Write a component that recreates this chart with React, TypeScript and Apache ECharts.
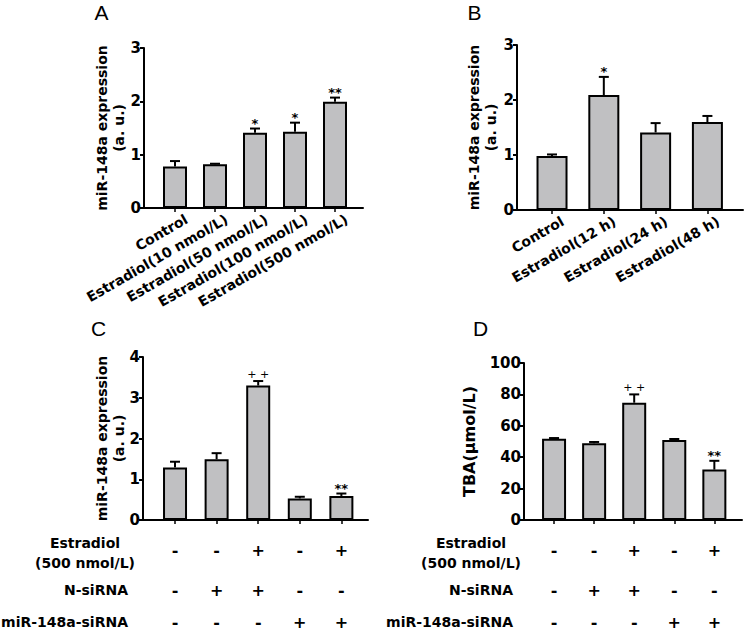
import React, { useEffect, useRef } from 'react';
import * as echarts from 'echarts';

const FONT = 'DejaVu Sans';

// Panel A
const catA = ['Control', 'Estradiol(10 nmol/L)', 'Estradiol(50 nmol/L)', 'Estradiol(100 nmol/L)', 'Estradiol(500 nmol/L)'];
const meanA = [0.78, 0.82, 1.41, 1.43, 1.99];
const semA = [0.10, 0.01, 0.08, 0.17, 0.08];
const sigA = ['', '', '*', '*', '**'];

// Panel B
const catB = ['Control', 'Estradiol(12 h)', 'Estradiol(24 h)', 'Estradiol(48 h)'];
const meanB = [0.98, 2.09, 1.41, 1.60];
const semB = [0.03, 0.33, 0.17, 0.11];
const sigB = ['', '*', '', ''];

// Panel C
const meanC = [1.29, 1.49, 3.30, 0.53, 0.59];
const semC = [0.14, 0.15, 0.11, 0.04, 0.06];
const sigC = ['', '', '++', '', '**'];

// Panel D
const meanD = [51.8, 48.9, 74.7, 51.0, 32.1];
const semD = [0.4, 0.8, 5.3, 0.6, 5.6];
const sigD = ['', '', '++', '', '**'];

// Treatment table (C, D)
const rowLabels = ['Estradiol\n(500 nmol/L)', 'N-siRNA', 'miR-148a-siRNA'];
const rowEstradiol = ['-', '-', '+', '-', '+'];
const rowNsi = ['-', '+', '+', '-', '-'];
const rowMir = ['-', '-', '-', '+', '+'];

const yNameExpr = 'miR-148a expression\n(a. u.)';
const yNameTBA = 'TBA(\u03bcmol/L)';
const panelLetters = ['A', 'B', 'C', 'D'];

const idx = (n: number) => Array.from({ length: n }, (_, i) => i);

const textBase = { fontFamily: FONT, fontWeight: 'bold' as const, fontSize: 14, color: '#000' };

function mainX(gi: number, min: number, max: number, n: number, labels: string[] | null, shift: number) {
  return {
    type: 'value', gridIndex: gi, min, max, position: 'bottom',
    axisLine: { show: true, onZero: false, lineStyle: { color: '#000', width: 2 } },
    axisTick: { show: true, customValues: idx(n), length: 4, lineStyle: { color: '#000', width: 1.5 } },
    axisLabel: labels
      ? {
          show: true,
          customValues: idx(n).map((i) => i + shift),
          formatter: (v: number) => labels[Math.round(v - shift)] ?? '',
          rotate: 30, align: 'right', verticalAlign: 'top', margin: 4,
          ...textBase,
        }
      : { show: false },
    splitLine: { show: false },
  };
}

function rowX(gi: number, min: number, max: number, signs: string[], offset: number, name: string, nameGap: number) {
  return {
    type: 'value', gridIndex: gi, min, max, position: 'bottom', offset,
    axisLine: { show: false, onZero: false },
    axisTick: { show: false },
    splitLine: { show: false },
    axisLabel: {
      show: true,
      customValues: idx(signs.length),
      formatter: (v: number) => signs[Math.round(v)] ?? '',
      margin: 0, verticalAlign: 'middle',
      ...textBase, fontSize: 16,
    },
    name, nameLocation: 'start', nameGap, nameMoveOverlap: false,
    nameTextStyle: { ...textBase, align: 'right', verticalAlign: 'middle' },
  };
}

function mkY(gi: number, max: number, interval: number, name: string, nameGap: number, nameSize: number) {
  return {
    type: 'value', gridIndex: gi, min: 0, max, interval,
    name, nameLocation: 'middle', nameGap, nameMoveOverlap: false,
    nameTextStyle: { ...textBase, fontSize: nameSize, lineHeight: 17, align: 'center' },
    axisLine: { show: true, onZero: false, lineStyle: { color: '#000', width: 2 } },
    axisTick: { show: true, length: 4, lineStyle: { color: '#000', width: 2 } },
    axisLabel: { margin: 3, ...textBase, fontSize: 15 },
    splitLine: { show: false },
  };
}

function mkErr(sigs: string[]) {
  return (params: any, api: any) => {
    const x = api.value(0);
    const m = api.value(1);
    const e = api.value(2);
    const p0 = api.coord([x, m]);
    const p1 = api.coord([x, m + e]);
    const sig = sigs[params.dataIndex];
    const children: any[] = [
      { type: 'line', shape: { x1: p0[0], y1: p0[1], x2: p1[0], y2: p1[1] }, style: { stroke: '#000', lineWidth: 2 } },
      { type: 'line', shape: { x1: p1[0] - 5, y1: p1[1], x2: p1[0] + 5, y2: p1[1] }, style: { stroke: '#000', lineWidth: 2 } },
    ];
    if (sig) {
      const plus = sig.includes('+');
      children.push({
        type: 'text',
        style: {
          text: plus ? sig.split('').join(' ') : sig,
          x: p1[0], y: p1[1] - (plus ? 7 : 5),
          align: 'center', verticalAlign: 'middle',
          textAlign: 'center', textVerticalAlign: 'middle',
          font: plus ? '11px "DejaVu Sans"' : 'bold 13px "DejaVu Sans"',
          fill: '#000',
        },
      });
    }
    return { type: 'group', children };
  };
}

function barSeries(xi: number, yi: number, means: number[], barWidth: number) {
  return {
    type: 'bar', xAxisIndex: xi, yAxisIndex: yi, barWidth, silent: true,
    data: means.map((m, i) => [i, m]),
    itemStyle: { color: '#c0c0c2', borderColor: '#000', borderWidth: 2 },
  };
}

function errSeries(xi: number, yi: number, means: number[], sems: number[], sigs: string[]) {
  return {
    type: 'custom', xAxisIndex: xi, yAxisIndex: yi, clip: false, silent: true, z: 5,
    data: means.map((m, i) => [i, m, sems[i]]),
    encode: { x: 0, y: 1 },
    renderItem: mkErr(sigs),
  };
}

function buildOption() {
  // layout
  const gA = { left: 144, top: 48, width: 219, height: 160 };
  const gB = { left: 517, top: 45, width: 226, height: 165 };
  const gC = { left: 143, top: 357, width: 225, height: 165 };
  const gD = { left: 524, top: 363, width: 218, height: 159 };
  const xrA = [-0.775, 4.7];
  const xrB = [-0.676, 3.687];
  const xrC = [-0.77, 4.64];
  const xrD = [-0.75, 4.69];

  const xAxis = [
    mainX(0, xrA[0], xrA[1], catA.length, catA, 0.2),
    mainX(1, xrB[0], xrB[1], catB.length, catB, 0.14),
    mainX(2, xrC[0], xrC[1], meanC.length, null, 0),
    rowX(2, xrC[0], xrC[1], rowEstradiol, 30, '', 15),
    rowX(2, xrC[0], xrC[1], rowNsi, 70, rowLabels[1], 15),
    rowX(2, xrC[0], xrC[1], rowMir, 102, rowLabels[2], 15),
    mainX(3, xrD[0], xrD[1], meanD.length, null, 0),
    rowX(3, xrD[0], xrD[1], rowEstradiol, 30, '', 11),
    rowX(3, xrD[0], xrD[1], rowNsi, 70, rowLabels[1], 11),
    rowX(3, xrD[0], xrD[1], rowMir, 102, rowLabels[2], 11),
  ];

  const yAxis = [
    mkY(0, 3, 1, yNameExpr, 17, 14),
    mkY(1, 3, 1, yNameExpr, 18, 14),
    mkY(2, 4, 1, yNameExpr, 15.5, 14),
    mkY(3, 100, 20, yNameTBA, 46, 16),
  ];

  const series = [
    barSeries(0, 0, meanA, 24), errSeries(0, 0, meanA, semA, sigA),
    barSeries(1, 1, meanB, 31), errSeries(1, 1, meanB, semB, sigB),
    barSeries(2, 2, meanC, 24), errSeries(2, 2, meanC, semC, sigC),
    barSeries(6, 3, meanD, 24), errSeries(6, 3, meanD, semD, sigD),
  ];

  const letterPos = [[101.5, 12.5], [474.5, 12.5], [98.5, 328.5], [480.5, 328.5]];
  const graphic: any[] = panelLetters.map((t, i) => ({
    type: 'text', x: letterPos[i][0], y: letterPos[i][1],
    style: {
      text: t, font: '21px "Liberation Sans"', fill: '#000',
      align: 'center', verticalAlign: 'middle', textAlign: 'center', textVerticalAlign: 'middle',
    },
  }));
  // two-line treatment label, centred lines
  const rowLabelPos = [[85, 553], [471, 553]];
  rowLabelPos.forEach(([x, y]) => {
    graphic.push({
      type: 'text', x, y,
      style: {
        text: rowLabels[0], font: 'bold 14px "DejaVu Sans"', fill: '#000', lineHeight: 20,
        align: 'center', verticalAlign: 'middle', textAlign: 'center', textVerticalAlign: 'middle',
      },
    });
  });

  return {
    animation: false,
    backgroundColor: '#fff',
    grid: [gA, gB, gC, gD].map((g) => ({ ...g, containLabel: false })),
    xAxis,
    yAxis,
    series,
    graphic,
  };
}

export default function App() {
  const ref = useRef<HTMLDivElement>(null);
  useEffect(() => {
    const chart = echarts.init(ref.current!, null, { renderer: 'svg' });
    chart.setOption(buildOption() as any);
    return () => chart.dispose();
  }, []);
  return (
    <div
      ref={ref}
      style={{ position: 'fixed', left: 0, top: 0, width: 745, height: 630, background: '#fff' }}
    />
  );
}
